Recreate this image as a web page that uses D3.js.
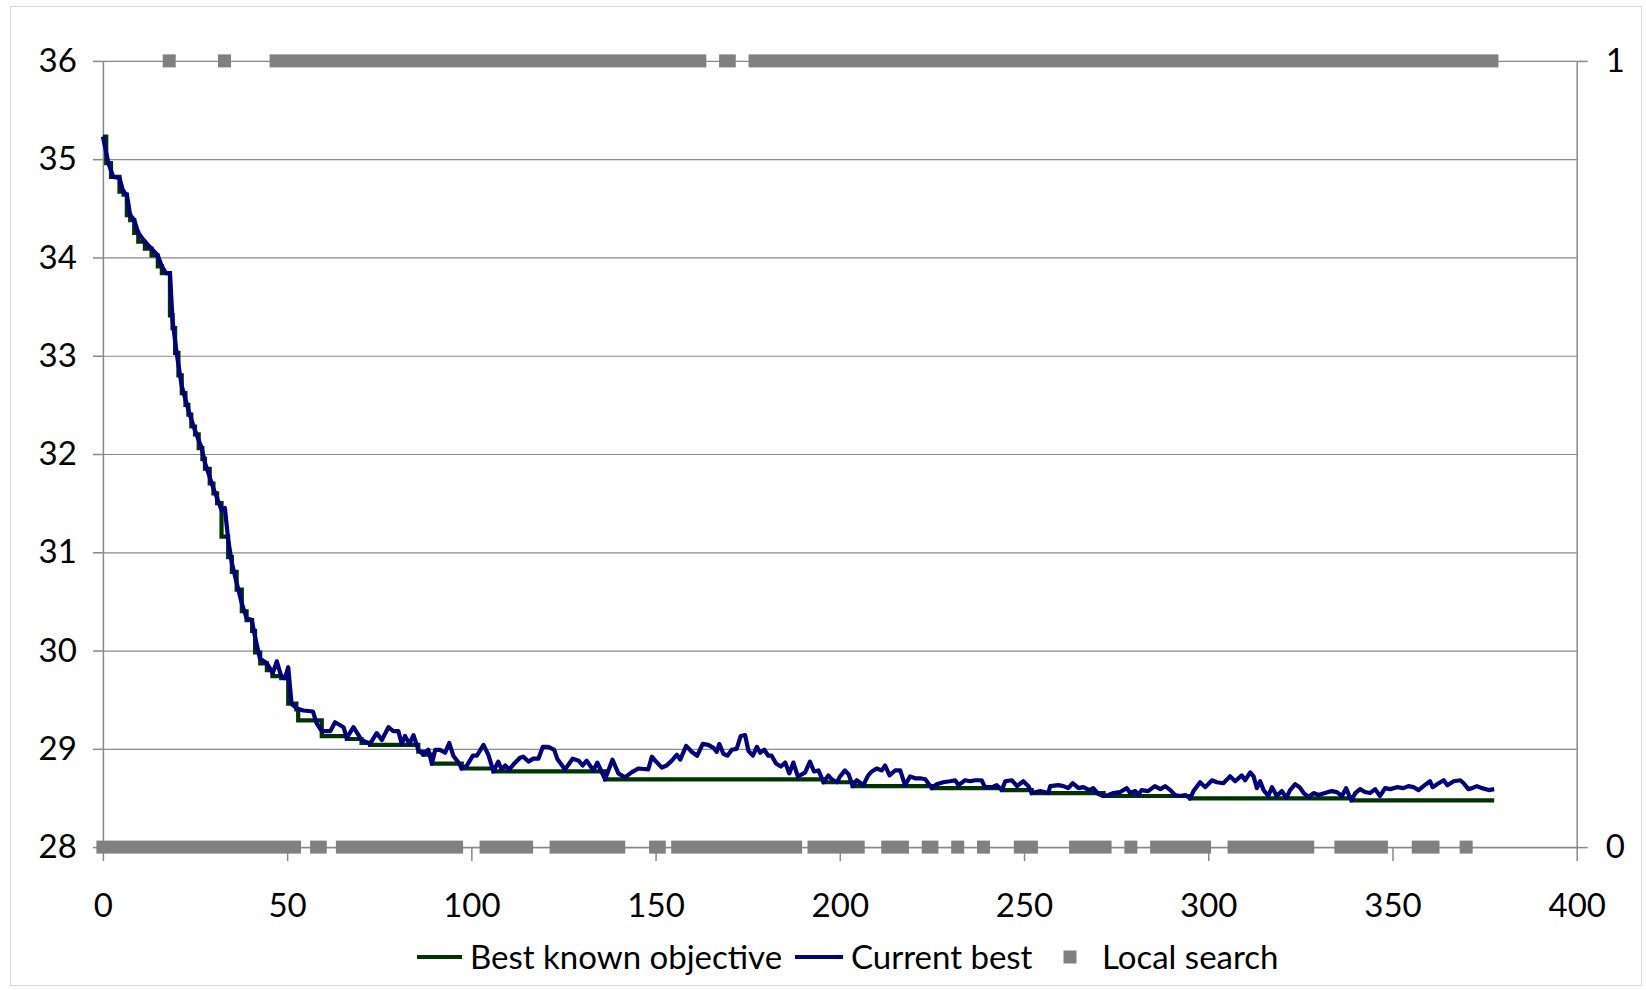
<!DOCTYPE html>
<html><head><meta charset="utf-8">
<script src="https://cdn.jsdelivr.net/npm/d3@7"></script>
<style>
html,body{margin:0;padding:0;background:#fff;}
svg{display:block;font-family:Lato,"Open Sans",sans-serif;}
</style></head>
<body><svg id="chart" width="1646" height="990"></svg>
<script>
const xTicks = [0,50,100,150,200,250,300,350,400];
const yTicks = [28,29,30,31,32,33,34,35,36];
const yRightTicks = [0,1];
const seriesNames = ["Best known objective","Current best","Local search"];

// Current best (x, objective)
const currentBest = [[0,35.23],[1.5,34.96],[2.8,34.82],[4.5,34.81],[5.5,34.67],[6.5,34.64],[7.4,34.43],[8.5,34.38],[9.6,34.25],[11.4,34.16],[13.2,34.09],[14.9,34.02],[16.0,33.91],[17.1,33.84],[18.2,33.84],[18.9,33.36],[20.0,33.03],[21.4,32.69],[23.2,32.45],[24.6,32.28],[26.8,32.06],[27.7,31.91],[30.0,31.65],[32.2,31.43],[33.1,31.45],[34.0,31.13],[35.0,30.89],[36.3,30.69],[37.7,30.48],[39.0,30.33],[40.4,30.31],[41.3,30.14],[42.6,29.92],[44.5,29.87],[46.1,29.77],[47.2,29.89],[48.4,29.74],[49.4,29.72],[50.3,29.83],[51.2,29.46],[52.6,29.41],[54.4,29.39],[57.0,29.38],[58.0,29.26],[59.4,29.18],[61.7,29.18],[63.0,29.27],[65.3,29.22],[66.2,29.11],[68.0,29.22],[70.2,29.09],[72.5,29.05],[74.3,29.16],[75.7,29.09],[77.5,29.22],[78.8,29.18],[80.2,29.18],[81.1,29.05],[82.0,29.13],[83.2,29.05],[84.3,29.14],[85.6,28.99],[87.0,28.94],[88.3,28.99],[89.3,28.85],[90.2,28.99],[91.5,28.99],[92.9,28.96],[94.0,29.06],[95.1,28.93],[96.5,28.86],[97.4,28.80],[98.8,28.83],[100.4,28.93],[101.5,28.93],[103.3,29.04],[104.6,28.94],[106.0,28.77],[107.3,28.87],[108.2,28.79],[109.2,28.83],[110.3,28.79],[111.4,28.84],[113.2,28.91],[114.1,28.92],[115.5,28.87],[116.8,28.90],[118.2,28.90],[119.4,29.02],[120.9,29.02],[122.5,28.99],[123.3,28.90],[125.4,28.79],[127.5,28.90],[129.1,28.88],[130.2,28.83],[131.3,28.88],[133.1,28.78],[134.2,28.86],[136.3,28.69],[138.3,28.89],[139.9,28.75],[141.7,28.71],[143.5,28.76],[145.3,28.80],[148.0,28.79],[149.0,28.92],[150.1,28.87],[151.7,28.81],[153.0,28.83],[154.4,28.88],[155.8,28.94],[156.7,28.89],[158.3,29.03],[159.8,28.97],[161.3,28.93],[162.8,29.05],[164.3,29.04],[165.7,29.01],[166.6,28.97],[167.3,29.05],[168.4,28.95],[169.5,28.93],[170.7,28.99],[172.0,29.00],[173.1,29.13],[174.3,29.14],[175.2,28.98],[176.4,28.93],[177.5,29.02],[178.4,28.96],[179.5,28.99],[180.6,28.93],[181.5,28.93],[182.7,28.85],[184.0,28.82],[185.2,28.86],[186.3,28.75],[187.4,28.86],[188.6,28.72],[189.7,28.74],[190.6,28.76],[191.9,28.87],[193.0,28.77],[194.2,28.78],[195.6,28.66],[196.9,28.73],[197.8,28.69],[199.2,28.66],[200.1,28.72],[201.4,28.78],[202.4,28.74],[203.5,28.62],[204.6,28.68],[206.4,28.63],[207.7,28.73],[208.7,28.77],[210.0,28.80],[211.4,28.78],[212.3,28.83],[213.5,28.73],[215.0,28.78],[216.4,28.78],[217.7,28.63],[219.1,28.72],[220.4,28.70],[221.8,28.70],[223.2,28.69],[225.0,28.60],[226.3,28.64],[228.1,28.66],[229.9,28.67],[231.3,28.68],[232.2,28.63],[234.0,28.68],[235.4,28.67],[236.7,28.68],[238.5,28.68],[239.4,28.61],[241.3,28.61],[242.6,28.63],[244.0,28.58],[244.9,28.67],[246.7,28.68],[248.1,28.62],[249.8,28.67],[251.2,28.62],[252.1,28.55],[254.4,28.57],[256.6,28.55],[257.1,28.62],[259.3,28.63],[260.7,28.62],[262.0,28.60],[263.2,28.65],[264.8,28.60],[266.1,28.61],[267.7,28.58],[268.8,28.60],[270.2,28.54],[271.6,28.52],[272.9,28.53],[274.3,28.55],[276.1,28.56],[277.9,28.60],[278.8,28.55],[280.2,28.57],[281.0,28.53],[281.9,28.58],[283.7,28.57],[285.5,28.62],[287.0,28.59],[288.3,28.62],[289.7,28.58],[291.0,28.53],[292.4,28.52],[293.8,28.53],[295.1,28.495],[296.0,28.57],[297.8,28.66],[299.2,28.61],[301.0,28.68],[302.3,28.66],[304.1,28.65],[305.9,28.72],[307.3,28.67],[309.1,28.73],[310.0,28.68],[311.4,28.76],[312.3,28.72],[313.2,28.60],[314.1,28.67],[315.0,28.58],[316.3,28.52],[317.3,28.61],[318.6,28.52],[320.0,28.57],[321.2,28.50],[322.2,28.58],[323.6,28.64],[324.8,28.61],[325.9,28.55],[327.2,28.51],[328.6,28.55],[329.9,28.53],[331.7,28.55],[333.5,28.57],[334.9,28.56],[336.3,28.52],[337.4,28.60],[338.3,28.52],[338.9,28.475],[339.9,28.55],[341.2,28.59],[342.6,28.56],[343.9,28.55],[345.3,28.59],[346.6,28.52],[348.0,28.60],[349.4,28.59],[351.2,28.61],[353.0,28.60],[354.3,28.62],[355.7,28.61],[357.1,28.58],[358.4,28.62],[360.2,28.67],[360.9,28.61],[362.1,28.64],[363.9,28.68],[364.9,28.63],[366.6,28.67],[368.4,28.68],[369.3,28.65],[370.6,28.59],[371.6,28.60],[372.9,28.62],[374.3,28.60],[376.1,28.58],[377.6,28.59]];

// Best known objective: change points (x where the value starts, value)
const bestKnown = [[0,35.23],[0.9,34.96],[2.2,34.82],[4.5,34.67],[5.6,34.64],[6.5,34.43],[7.4,34.38],[8.5,34.25],[9.6,34.16],[11.4,34.09],[13.2,34.02],[14.9,33.91],[16.0,33.84],[18.2,33.41],[18.9,33.28],[19.6,33.03],[20.5,32.8],[21.4,32.62],[22.4,32.5],[23.2,32.4],[24.0,32.28],[25.0,32.2],[26.0,32.06],[27.0,31.95],[27.7,31.85],[29.0,31.7],[30.0,31.6],[31.0,31.5],[32.2,31.16],[34.0,30.95],[35.0,30.8],[36.3,30.62],[37.7,30.4],[39.0,30.31],[40.5,30.2],[41.3,29.98],[42.7,29.87],[44.5,29.8],[46.0,29.74],[48.4,29.72],[50.3,29.46],[52.5,29.4],[53.0,29.29],[59.4,29.13],[66.2,29.10],[70.2,29.06],[72.5,29.04],[85.6,28.97],[87.0,28.94],[89.3,28.85],[97.4,28.80],[106.0,28.77],[136.3,28.69],[195.6,28.66],[203.5,28.62],[225.0,28.60],[244.0,28.58],[252.1,28.55],[271.6,28.52],[295.1,28.495],[338.9,28.475],[377.6,28.475]];

// Local search flag: runs of iterations [from, to] where flag = 1 / flag = 0
const localSearchOn = [[18,18],[33,33],[47,162],[169,170],[177,377]];
const localSearchOff = [[0,52],[58,59],[65,96],[104,115],[123,140],[150,151],[156,188],[193,205],[213,217],[224,225],[232,232],[239,239],[249,252],[264,272],[279,279],[286,299],[307,327],[336,347],[357,361],[370,370]];

const svg = d3.select("#chart");
const FS = 33;
const LW = 4.2;
const gridColor = "#898989";
const x = d3.scaleLinear().domain([0,400]).range([102.9,1576.7]);
const y = d3.scaleLinear().domain([28,36]).range([847.1,60.9]);
const yR = d3.scaleLinear().domain([0,1]).range([847.1,60.9]);

// chart frame
svg.append("rect").attr("x",10.5).attr("y",6.5).attr("width",1631).attr("height",979)
  .attr("fill","none").attr("stroke","#d9d9d9").attr("stroke-width",1);

// gridlines
const grid = svg.append("g").attr("transform",`translate(${x(0)},0)`)
  .call(d3.axisLeft(y).tickValues(yTicks).tickSize(-(x(400)-x(0))).tickFormat(""));
grid.select(".domain").remove();
grid.selectAll("line").attr("stroke",gridColor).attr("stroke-width",1.2);

// left axis
const gl = svg.append("g").attr("transform",`translate(${x(0)},0)`)
  .call(d3.axisLeft(y).tickValues(yTicks).tickSize(10).tickSizeOuter(0).tickPadding(16).tickFormat(d3.format("d")));
// right axis
const gr = svg.append("g").attr("transform",`translate(${x(400)},0)`)
  .call(d3.axisRight(yR).tickValues(yRightTicks).tickSize(11).tickSizeOuter(0).tickPadding(18).tickFormat(d3.format("d")));
// bottom axis
const gb = svg.append("g").attr("transform",`translate(0,${y(28)})`)
  .call(d3.axisBottom(x).tickValues(xTicks).tickSize(14).tickSizeOuter(0).tickPadding(32).tickFormat(d3.format("d")));
[gl,gr,gb].forEach(g=>{
  g.selectAll(".domain").attr("stroke",gridColor).attr("stroke-width",1.5);
  g.selectAll(".tick line").attr("stroke",gridColor).attr("stroke-width",1.5);
  g.selectAll("text").attr("font-size",FS).attr("fill","#000").attr("font-family","Lato");
});

// local search markers (runs of square markers)
const MS = 13;
const ls = svg.append("g");
ls.selectAll("rect.on").data(localSearchOn).join("rect").attr("class","on")
  .attr("x",d=>x(d[0])-MS/2).attr("width",d=>x(d[1])-x(d[0])+MS)
  .attr("y",yR(1)-MS/2).attr("height",MS).attr("fill","#808080");
ls.selectAll("rect.off").data(localSearchOff).join("rect").attr("class","off")
  .attr("x",d=>x(d[0])-MS/2).attr("width",d=>x(d[1])-x(d[0])+MS)
  .attr("y",yR(0)-MS/2).attr("height",MS).attr("fill","#808080");

// best known (step line)
svg.append("path").datum(bestKnown)
  .attr("d",d3.line().x(d=>x(d[0])).y(d=>y(d[1])).curve(d3.curveStepAfter))
  .attr("fill","none").attr("stroke","#003300").attr("stroke-width",LW);
// current best
svg.append("path").datum(currentBest)
  .attr("d",d3.line().x(d=>x(d[0])).y(d=>y(d[1])))
  .attr("fill","none").attr("stroke","#000080").attr("stroke-width",LW).attr("stroke-linejoin","round");

// legend
const leg = svg.append("g").attr("font-size",FS).attr("font-family","Lato");
const ly = 957;
leg.append("line").attr("x1",417).attr("x2",462).attr("y1",ly).attr("y2",ly).attr("stroke","#003300").attr("stroke-width",LW);
leg.append("text").attr("x",470).attr("y",ly).attr("dy","0.35em").text(seriesNames[0]);
leg.append("line").attr("x1",795).attr("x2",843).attr("y1",ly).attr("y2",ly).attr("stroke","#000080").attr("stroke-width",LW);
leg.append("text").attr("x",851).attr("y",ly).attr("dy","0.35em").text(seriesNames[1]);
leg.append("rect").attr("x",1070-MS/2).attr("y",ly-MS/2).attr("width",MS).attr("height",MS).attr("fill","#808080");
leg.append("text").attr("x",1102).attr("y",ly).attr("dy","0.35em").text(seriesNames[2]);
</script></body></html>
